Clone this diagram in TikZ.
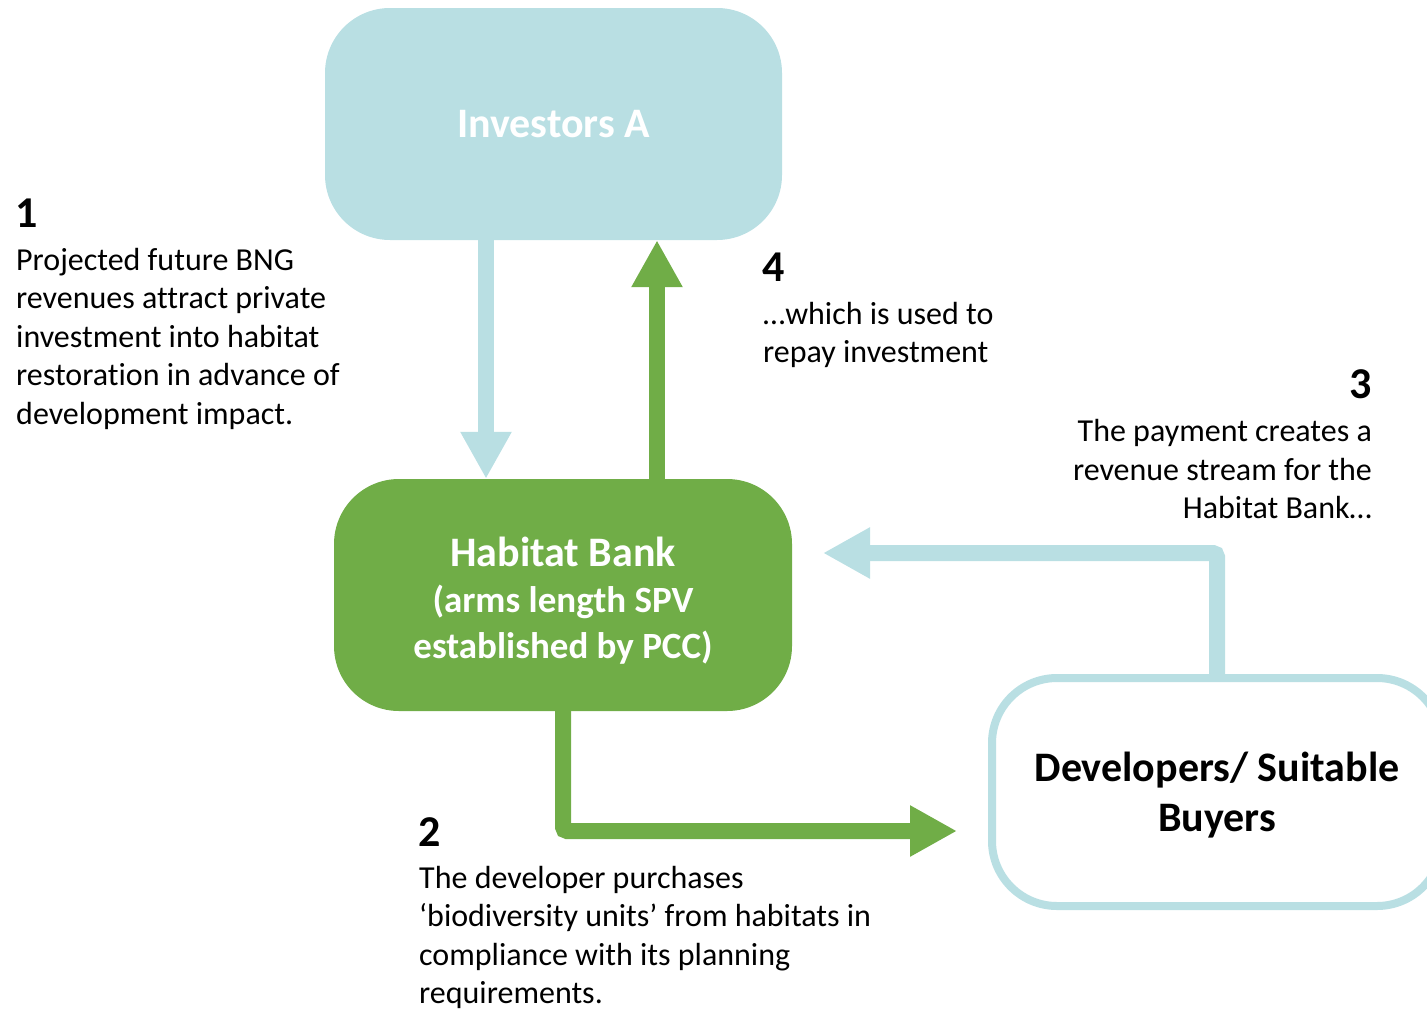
\documentclass[tikz,border=0pt]{standalone}
\usepackage{fontspec}
\setmainfont{Carlito}[Ligatures=NoCommon]
\usetikzlibrary{positioning, arrows.meta}

\definecolor{paleblue}{RGB}{185,223,227}
\definecolor{leafgreen}{RGB}{112,173,71}

\begin{document}
\begin{tikzpicture}[
    x=1pt, y=-1pt,
    box/.style={rectangle, rounded corners=65pt, minimum width=457pt, minimum height=232pt,
        align=center, font=\fontsize{42}{46}\selectfont\bfseries},
    flow/.style={line width=16pt, rounded corners=4pt, -{Triangle[length=47pt, width=48pt]}},
    num/.style={inner sep=0pt, font=\fontsize{44}{50}\selectfont\bfseries},
    note/.style={inner sep=0pt, font=\fontsize{32}{38.5}\selectfont}
]
    \useasboundingbox (0,0) rectangle (1427,1012);

    % Boxes
    \node[box, fill=paleblue, text=white] (inv) at (553.5,124) {Investors A};
    \node[box, fill=leafgreen, text=white, minimum width=458pt,
        font=\fontsize{37}{46}\selectfont\bfseries] (hb) at (563,595)
        {\rule{0pt}{40pt}{\fontsize{42}{46}\selectfont Habitat Bank}\\(arms length SPV\\established by PCC)};
    \node[box, draw=paleblue, line width=8pt, fill=white, minimum width=450pt, minimum height=228pt,
        font=\fontsize{42}{50}\selectfont\bfseries] (dev) at (1217,792)
        {\rule{0pt}{36pt}Developers/ Suitable\\Buyers};

    % Free ends of the bent arrows
    \coordinate (tip2) at (957,831);
    \coordinate (tip3) at (823,553);

    % Arrows
    \draw[flow, paleblue] ([xshift=-67.5pt]inv.south) -- ([xshift=-67.5pt]inv.south |- hb.north);
    \draw[flow, leafgreen] ([xshift=94pt]hb.north) -- ([xshift=94pt]hb.north |- inv.south);
    \draw[flow, leafgreen] (hb.south) |- (tip2);
    \draw[flow, paleblue] (dev.north) |- (tip3);

    % Notes
    \node[num, anchor=base west] (n1) at (15,227) {1};
    \node[note, align=left, below right=16pt and 1pt of n1.south west]
        {\strut Projected future BNG\\revenues attract private\\investment into habitat\\restoration in advance of\\development impact.};

    \node[num, anchor=base west] (n4) at (762,281) {4};
    \node[note, align=left, below right=16pt and 1pt of n4.south west]
        {\strut …which is used to\\repay investment};

    \node[num, anchor=base east] (n3) at (1372,398) {3};
    \node[note, align=right, below left=16pt and 0pt of n3.south east]
        {\strut The payment creates a\\revenue stream for the\\Habitat Bank…};

    \node[num, anchor=base west] (n2) at (418,846) {2};
    \node[note, align=left, below right=15pt and 1pt of n2.south west]
        {\strut The developer purchases\\‘biodiversity units’ from habitats in\\compliance with its planning\\requirements.};

\end{tikzpicture}
\end{document}
